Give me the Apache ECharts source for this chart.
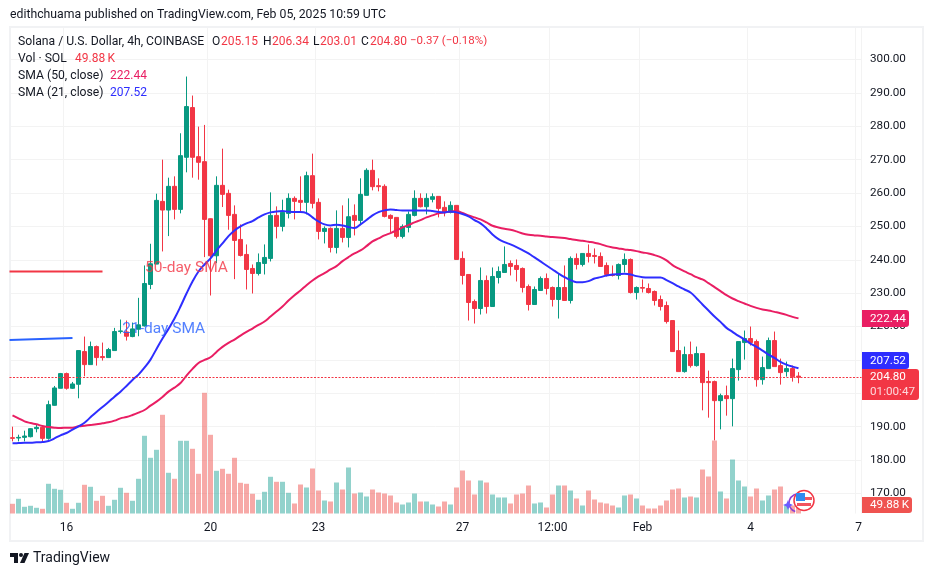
<!DOCTYPE html>
<html><head><meta charset="utf-8">
<style>html,body{margin:0;padding:0;background:#fff}#c{width:933px;height:576px}</style>
<script src="https://cdn.jsdelivr.net/npm/echarts@6/dist/echarts.min.js"></script>
</head><body><div id="c"></div>
<script>
const opens=[
186.7,186.6,186.8,187.0,189.4,189.8,186.5,196.4,201.5,205.9,
201.5,202.7,212.5,208.6,214.0,211.0,210.7,212.8,218.5,218.4,
217.0,219.2,220.2,232.6,238.7,257.5,254.9,262.0,255.1,270.7,
285.6,270.9,269.4,252.3,241.2,262.3,259.9,253.6,246.1,241.6,
237.4,235.9,238.9,240.4,253.3,250.0,253.9,258.4,257.8,257.2,
265.2,257.2,248.5,249.4,243.7,249.4,246.7,253.3,251.8,259.3,
266.8,262.2,262.0,253.3,252.7,247.0,249.7,253.3,258.4,255.9,
258.1,259.0,255.7,254.2,256.3,240.4,235.6,227.5,225.4,233.8,
226.0,234.7,236.2,238.9,238.3,237.4,232.0,226.6,230.8,234.4,
231.7,228.1,231.7,227.8,240.4,238.6,241.9,241.3,241.0,238.3,
235.6,235.3,238.6,240.1,230.2,231.7,231.4,230.5,228.1,226.3,
221.8,212.8,206.5,211.6,208.3,211.9,203.5,203.5,197.8,199.3,
198.4,207.1,215.2,216.4,215.5,204.1,207.4,215.8,208.3,206.5,
207.4,205.15];
const closes=[
186.5,186.8,187.2,189.4,189.8,186.5,196.6,201.6,205.9,201.5,
202.8,212.8,208.6,214.0,210.7,210.7,213.1,218.5,218.7,217.1,
219.3,220.5,232.9,238.8,257.8,254.9,262.0,255.1,271.2,285.9,
270.7,269.2,252.1,241.2,262.3,259.6,253.3,245.8,241.3,237.1,
235.9,239.2,240.7,253.3,250.0,254.2,258.4,257.5,257.2,265.2,
256.9,248.5,249.4,243.7,249.4,246.7,252.9,251.8,259.6,266.8,
261.9,261.9,253.0,252.4,247.0,250.0,253.6,258.4,255.9,258.4,
258.9,255.4,254.2,256.3,240.1,235.3,227.2,225.4,233.8,226.0,
235.0,236.5,238.6,238.0,237.1,231.7,226.6,231.1,234.4,231.4,
228.1,231.7,227.8,240.4,238.6,241.9,241.0,241.0,238.0,235.6,
235.3,238.6,240.1,230.2,231.7,231.5,230.2,227.8,226.0,221.5,
212.5,206.5,211.6,208.3,211.9,203.2,203.2,197.8,199.3,198.4,
207.4,215.5,216.4,215.2,204.1,207.7,215.8,208.0,206.2,207.4,
205.0,204.80];
const lows=[
185.6,185.6,185.6,186.8,188.3,185.6,186.1,196.3,201.5,201.1,
201.3,198.5,205.1,208.6,208.3,209.8,210.7,212.8,217.9,215.8,
216.8,217.1,220.0,231.2,238.7,242.5,247.1,252.1,253.9,266.2,
264.6,264.0,240.8,229.3,239.0,255.8,249.0,234.2,241.0,231.1,
229.9,235.3,235.6,239.5,246.4,248.5,252.4,252.1,254.2,253.6,
255.4,246.1,244.9,242.2,241.9,245.2,243.7,247.3,250.3,259.3,
260.8,260.5,252.7,248.2,246.4,246.4,248.2,253.0,255.7,253.6,
257.2,252.7,253.0,253.9,240.1,232.6,221.8,220.9,223.6,223.9,
226.0,232.9,236.2,235.3,233.5,230.2,224.8,226.6,230.8,229.6,
226.0,222.4,227.8,226.9,237.1,238.0,239.2,238.9,238.0,235.0,
235.0,234.1,236.2,229.9,228.1,230.2,229.9,226.3,224.8,220.9,
212.5,206.5,206.2,207.7,208.0,194.9,192.7,185.9,189.2,193.3,
190.1,203.8,210.1,214.3,202.0,202.6,207.4,208.0,202.6,205.0,
203.5,203.01];
const highs=[
190.0,187.6,188.8,189.6,190.6,190.1,197.8,202.2,206.1,206.2,
203.4,212.8,217.0,215.5,214.3,215.2,213.6,219.6,222.1,221.8,
221.2,228.6,238.3,244.8,259.8,270.0,264.6,265.0,277.9,294.9,
289.2,279.9,280.4,252.4,265.0,273.3,261.0,256.3,250.6,244.6,
238.6,241.9,244.6,260.2,256.0,258.0,259.9,259.0,265.0,266.4,
271.8,258.4,250.0,249.7,254.8,256.3,258.4,256.6,264.4,267.4,
270.0,264.4,262.6,253.6,252.7,250.6,254.5,260.8,259.9,259.9,
259.9,259.0,257.5,257.5,256.3,242.5,235.6,228.1,237.7,235.3,
237.7,238.0,244.0,239.8,240.1,237.7,232.6,232.0,235.0,235.9,
232.0,235.9,238.3,241.0,241.9,241.9,244.6,243.4,242.2,239.2,
238.3,238.9,241.9,240.4,232.0,234.1,232.9,230.8,229.3,227.5,
221.8,218.8,214.0,215.5,214.0,211.9,206.8,203.8,199.9,202.3,
210.4,215.5,218.8,220.0,216.1,211.0,216.7,218.5,210.4,209.5,
208.3,206.34];
const volumesK=[
68,103,47,54,40,33,208,173,166,75,
33,75,201,187,89,124,54,96,180,145,
89,243,544,390,446,691,285,243,509,509,
453,278,845,551,299,313,278,390,215,208,
138,96,152,257,222,222,145,70,203,182,
315,161,91,84,217,168,322,140,147,119,
168,147,140,126,77,63,77,140,84,84,
63,49,84,63,182,301,231,133,231,217,
133,112,112,70,133,140,196,70,77,42,
133,196,196,161,105,56,161,98,77,70,
56,42,126,133,105,56,35,35,56,91,
168,175,112,119,112,308,259,511,154,105,
378,231,189,119,175,91,126,168,189,56,
56,49.88];
const sma21=[
185.0,185.1,185.2,185.2,185.3,185.4,185.7,186.5,187.4,188.1,
189.1,190.1,191.2,192.8,194.4,195.9,197.4,199.0,200.5,202.2,
204.0,205.6,207.7,210.1,213.3,216.4,219.3,222.4,226.0,229.9,
233.5,236.5,238.6,240.4,242.8,244.9,247.1,248.8,250.0,250.9,
251.6,252.7,253.6,254.2,254.5,254.6,254.4,254.3,254.3,254.0,
252.7,251.5,250.6,250.3,250.5,250.3,249.8,249.5,250.6,251.9,
253.3,254.3,254.8,255.1,254.9,254.8,254.8,254.8,254.8,254.8,
254.6,254.3,254.2,254.5,254.2,253.7,253.0,251.9,250.9,249.4,
247.6,246.2,245.3,244.6,243.8,242.9,241.9,240.7,239.5,238.3,
237.1,235.9,234.8,233.9,233.3,233.3,233.6,234.4,234.8,235.3,
235.6,235.7,235.8,235.6,235.1,234.8,234.7,234.7,234.7,233.9,
233.0,232.0,231.1,230.2,228.5,226.6,224.8,223.0,221.4,219.6,
218.4,217.2,216.1,214.9,213.9,212.8,211.6,210.6,209.4,208.6,
208.0,207.52];
const sma50=[
193.4,192.5,191.6,191.1,190.7,190.2,189.9,189.7,189.6,189.7,
189.7,190.1,190.3,190.5,190.7,191.0,191.3,191.8,192.5,192.9,
193.5,194.2,195.0,196.3,197.5,198.9,200.5,201.7,203.1,205.3,
207.3,209.1,210.0,210.8,212.4,213.9,215.1,216.1,217.3,218.4,
219.4,220.5,221.5,223.0,224.5,226.0,227.8,229.4,230.8,232.4,
233.8,235.0,236.0,237.1,238.1,239.6,240.8,241.9,242.8,244.1,
245.5,246.4,247.3,248.0,248.8,249.7,250.4,251.2,251.9,252.7,
253.3,253.9,254.2,254.5,254.6,254.0,253.3,252.7,252.1,251.2,
250.2,249.7,249.3,249.0,248.5,247.9,247.5,247.3,247.2,247.0,
246.8,246.7,246.5,246.2,245.9,245.7,245.4,245.1,244.7,244.1,
243.7,243.4,243.1,242.9,242.6,242.2,241.9,241.4,240.8,239.8,
238.4,237.4,236.5,235.7,234.8,234.1,233.0,231.8,230.6,229.4,
228.4,227.6,226.9,226.2,225.6,225.1,224.8,224.4,224.0,223.5,
222.9,222.44];
const priceTicks=[170,180,190,200,210,220,230,240,250,260,270,280,290,300];
const timeTickIndexes=[9,33,51,75,90,105,123,141];
const timeTickLabels=['16','20','23','27','12:00','Feb','4','7'];
const note50Line=[[-0.5,236.5],[15,236.5]];
const note21Line=[[-0.5,216.0],[10,216.6]];
const notes=[{pos:[29,237.6],text:'50-day SMA',color:'#f23645'},{pos:[25.2,219.2],text:'21-day SMA',color:'#2962ff'}];

const lastPrice=204.80, lastSma50=222.44, lastSma21=207.52;
const FONT='Roboto';
const INK='#131722', GRID='#f3f3f3', UP='#089981', DOWN='#f23645';
const slots=142;
const categories=Array.from({length:slots},(_,i)=>{const k=timeTickIndexes.indexOf(i);return k<0?'':timeTickLabels[k]});
const isTick=i=>timeTickIndexes.includes(i);
const candles=opens.map((o,i)=>[o,closes[i],lows[i],highs[i]]);
const volData=volumesK.map((v,i)=>({value:v,itemStyle:{color:closes[i]>=opens[i]?'rgba(38,166,154,.5)':'rgba(239,83,80,.5)'}}));

const chart=echarts.init(document.getElementById('c'),null,{renderer:'canvas'});
chart.setOption({
 animation:false,backgroundColor:'#fff',
 textStyle:{fontFamily:FONT},
 grid:{left:9.5,top:27.5,width:852,height:486,containLabel:false},
 xAxis:[{type:'category',data:categories,boundaryGap:true,axisLine:{show:false},
   axisTick:{show:false,alignWithLabel:true,interval:i=>isTick(i)},
   axisLabel:{interval:i=>isTick(i),color:INK,fontSize:12,fontFamily:FONT,margin:8.5,hideOverlap:false},
   splitLine:{show:true,interval:i=>isTick(i),lineStyle:{color:GRID,width:1}}},
  {type:'value',min:-0.5,max:141.5,show:false,splitLine:{show:false}}],
 yAxis:[{type:'value',position:'right',min:163.99,max:309.59,axisLine:{show:false},
   axisTick:{show:false,customValues:priceTicks},
   axisLabel:{customValues:priceTicks,color:INK,fontSize:11.7,fontFamily:FONT,margin:8.5,align:'left',padding:[2,0,0,0],formatter:v=>v.toFixed(2)},
   splitLine:{show:true,lineStyle:{color:GRID,width:1}}},
  {type:'value',min:0,max:3402,show:false,splitLine:{show:false}}],
 series:[
  {type:'bar',name:'Vol',data:volData,xAxisIndex:0,yAxisIndex:1,barWidth:5,z:1},
  {type:'candlestick',name:'SOLUSD',data:candles,xAxisIndex:0,yAxisIndex:0,barWidth:5,z:3,
   itemStyle:{color:UP,color0:DOWN,borderColor:UP,borderColor0:DOWN,borderWidth:1},
   markLine:{silent:true,symbol:'none',label:{show:false},lineStyle:{color:DOWN,type:[2,1.5],width:1},data:[{yAxis:lastPrice}]}},
  {type:'line',name:'SMA 50',data:sma50,xAxisIndex:0,yAxisIndex:0,showSymbol:false,symbol:'none',smooth:0.4,z:4,lineStyle:{color:'#e91e63',width:2}},
  {type:'line',name:'SMA 21',data:sma21,xAxisIndex:0,yAxisIndex:0,showSymbol:false,symbol:'none',smooth:0.4,z:4,lineStyle:{color:'#2e2eff',width:2}},
  {type:'line',name:'note 50',data:note50Line,xAxisIndex:1,yAxisIndex:0,showSymbol:false,symbol:'none',z:4,lineStyle:{color:'#f23645',width:2}},
  {type:'line',name:'note 21',data:note21Line,xAxisIndex:1,yAxisIndex:0,showSymbol:false,symbol:'none',z:4,lineStyle:{color:'#2962ff',width:2}},
  {type:'scatter',name:'notes',xAxisIndex:1,yAxisIndex:0,symbolSize:1,z:5,itemStyle:{color:'rgba(0,0,0,0)'},
   data:notes.map(n=>({value:n.pos,label:{show:true,position:'inside',formatter:n.text,color:n.color,fontSize:15.5,fontFamily:FONT}}))}
 ]
});

const yPx=v=>chart.convertToPixel({yAxisIndex:0},v);
const txt=(x,y,s,fill,size,extra)=>({type:'text',z:20,x,y,silent:true,style:Object.assign({text:s,fill,font:(size||12)+'px '+FONT,verticalAlign:'middle'},extra||{})});
const tag=(y,h,w,fill)=>({type:'rect',z:18,silent:true,shape:{x:862,y:Math.round(y),width:w,height:h,r:[0,3,3,0]},style:{fill}});
const poly=(x,y,points,fill)=>({type:'polygon',z:20,silent:true,x,y,shape:{points},style:{fill}});
const g=[];
// frame
g.push({type:'rect',z:0,silent:true,shape:{x:10,y:27,width:913,height:514},style:{fill:'none',stroke:'#f1f2f4',lineWidth:2}});
// header & legend
g.push(txt(10,15,'edithchuama published on TradingView.com, Feb 05, 2025 10:59 UTC',INK,12.25));
g.push(txt(18,41.5,'Solana / U.S. Dollar, 4h, COINBASE',INK,12.2));
const OHLC=[['O',212,'205.15'],['H',263,'206.34'],['L',313,'203.01'],['C',361,'204.80']];
OHLC.forEach(([a,x,v])=>{g.push(txt(x,41.5,a,INK,12));g.push(txt(x+(a==='L'?7:9),41.5,v,DOWN,12));});
g.push(txt(410,41.5,'\u22120.37 (\u22120.18%)',DOWN,11.5));
g.push(txt(18,58.5,'Vol \u00b7 SOL',INK,12.2));
g.push(txt(75,58.5,'49.88\u2009K',DOWN,12));
g.push(txt(18,75.5,'SMA (50, close)',INK,12.2));
g.push(txt(110,75.5,'222.44','#e91e63',12));
g.push(txt(18,92.5,'SMA (21, close)',INK,12.2));
g.push(txt(110,92.5,'207.52','#2e2eff',12));
// price tags
const y50=yPx(lastSma50), y21=yPx(lastSma21), yP=yPx(lastPrice);
g.push(tag(y50-8.5,17,47,'#e91e63'));g.push(txt(870,y50+0.5,'222.44','#fff',11.7));
g.push(tag(y21-16,17,47,'#2e2eff'));g.push(txt(870,y21-7,'207.52','#fff',11.7));
g.push(tag(yP-8.5,31,57,DOWN));g.push(txt(870,yP-0.5,'204.80','#fff',11.7));g.push(txt(870,yP+14.5,'01:00:47','rgba(255,255,255,.8)',11.7));
g.push(tag(497,16,50,'#ef5350'));g.push(txt(870,505.5,'49.88\u2009K','#fff',11.7));
// flag badge
g.push({type:'arc',z:19,silent:true,shape:{cx:798,cy:503,r:9,startAngle:Math.PI*0.6,endAngle:Math.PI*1.7,clockwise:true},style:{fill:'none',stroke:'#8e3fd6',lineWidth:1.5}});
g.push(poly(783,500,[[5,0],[6.5,3.5],[10,5],[6.5,6.5],[5,10],[3.5,6.5],[0,5],[3.5,3.5]],'#6a5cff'));
g.push({type:'circle',z:19,silent:true,shape:{cx:804,cy:500.5,r:10},style:{fill:'#fff',stroke:'#f23645',lineWidth:1.5}});
g.push({type:'rect',z:20,silent:true,shape:{x:796,y:493,width:9,height:8},style:{fill:'#2f8bf0'}});
g.push({type:'rect',z:20,silent:true,shape:{x:805,y:497,width:7,height:3},style:{fill:'#f2545f'}});
g.push({type:'rect',z:20,silent:true,shape:{x:797,y:503,width:14,height:3},style:{fill:'#f2545f'}});
// footer logo
g.push(poly(10,553,[[0,0],[8,0],[8,10],[4,10],[4,4],[0,4]],'#131722'));
g.push(poly(10,553,[[19,0],[14.5,10],[10,10],[14.5,0]],'#131722'));
g.push({type:'circle',z:20,silent:true,shape:{cx:21,cy:555,r:2},style:{fill:'#131722'}});
g.push(txt(33,558.5,'TradingView','#131722',14));
chart.setOption({graphic:g});
</script></body></html>
